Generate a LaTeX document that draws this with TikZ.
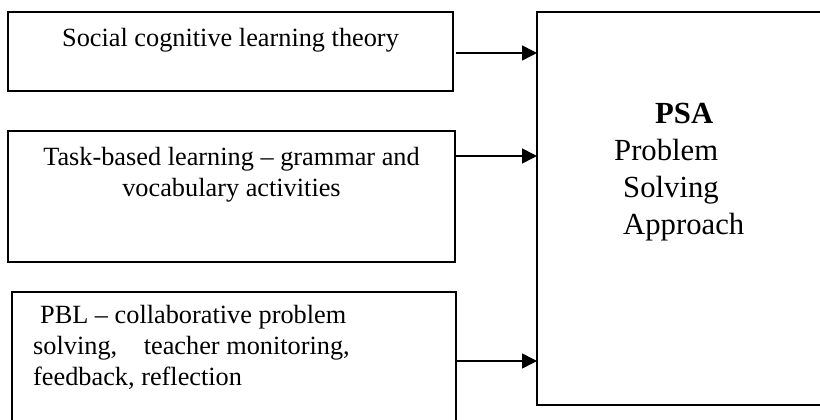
\documentclass[tikz,border=0pt]{standalone}
\usepackage{fontspec}
\setmainfont{Liberation Serif}
\usetikzlibrary{arrows.meta}

\begin{document}
\begin{tikzpicture}[x=1pt, y=1pt, >={Triangle[length=15pt,width=15pt]},
  box/.style={draw, line width=1.5pt, inner sep=0pt, outer sep=0pt},
  lbl/.style={font=\fontsize{26.3}{31}\selectfont, inner sep=0pt},
  big/.style={font=\fontsize{30.7}{37}\selectfont, inner sep=0pt},
  arr/.style={->, line width=1.6pt}]
  \clip (0,0) rectangle (820,420);
  % left: the three sources (base = last line)
  \node[box, minimum width=445pt, minimum height=79pt] (sct) at (230.5,368.5) {};
  \node[lbl, anchor=base] (sct-t) at (230.5,373) {Social cognitive learning theory};
  \node[box, minimum width=447pt, minimum height=131pt] (tbl) at (231.5,223.5) {};
  \node[lbl, anchor=base, align=center] (tbl-t) at (231.5,223)
    {Task-based learning – grammar and\\vocabulary activities};
  \node[box, minimum width=444pt, minimum height=148pt] (pbl) at (234,54) {};
  \node[lbl, anchor=base west, align=left] (pbl-t) at (33,34)
    {\hspace*{7pt}PBL – collaborative problem\\solving,\hspace*{20pt} teacher monitoring,\\feedback, reflection};
  % right: the approach
  \node[box, minimum width=293pt, minimum height=393pt] (psa) at (683.5,211.5) {};
  \node[big, anchor=base west, align=left] (psa-t) at (614,185)
    {\hspace*{41pt}\textbf{PSA}\\Problem\\\hspace*{9pt}Solving\\\hspace*{9pt}Approach};
  % arrows
  \draw[arr] ([xshift=3pt]sct.east |- 0,367) -- (psa.west |- 0,367);
  \draw[arr] (tbl.east |- 0,264) -- (psa.west |- 0,264);
  \draw[arr] (pbl.east |- 0,59) -- (psa.west |- 0,59);
\end{tikzpicture}
\end{document}
